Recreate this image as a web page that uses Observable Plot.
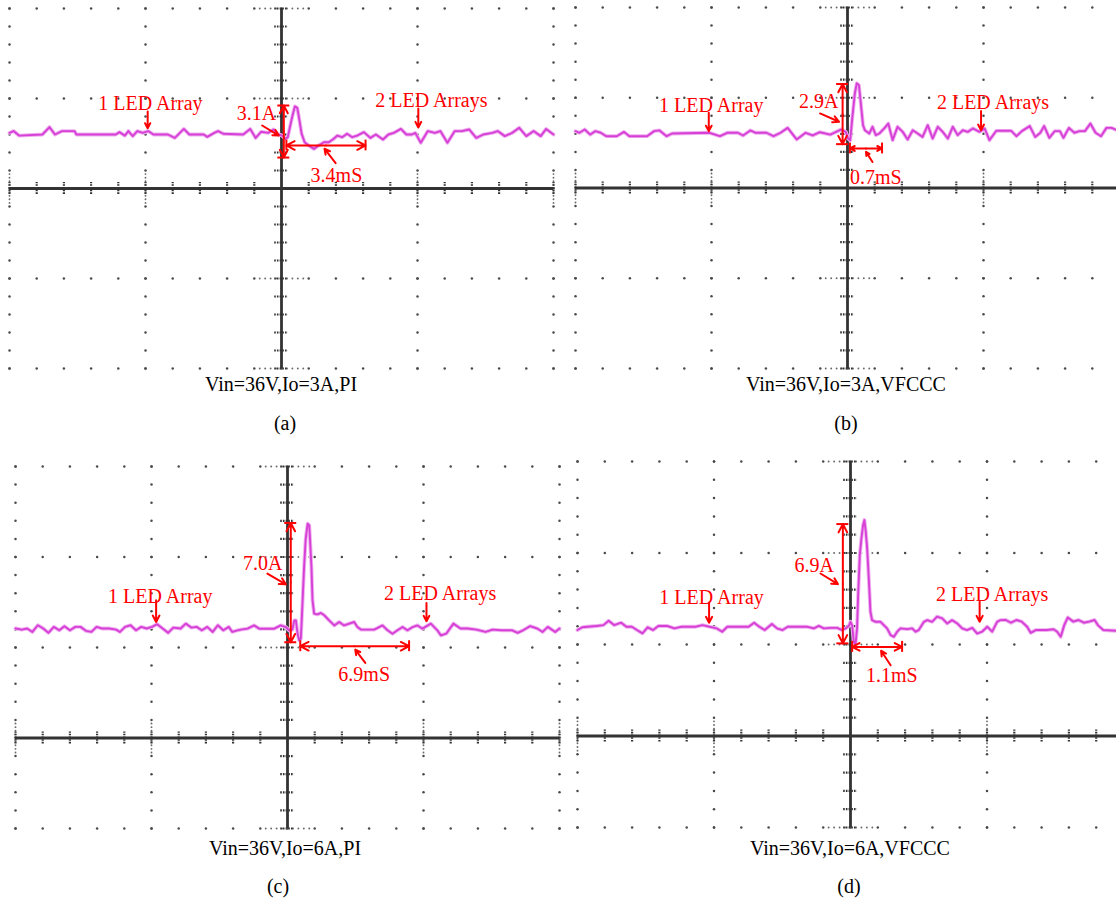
<!DOCTYPE html>
<html><head><meta charset="utf-8">
<script src="https://cdn.jsdelivr.net/npm/d3@7"></script>
<script src="https://cdn.jsdelivr.net/npm/@observablehq/plot@0.6"></script>
<style>
html,body{margin:0;padding:0;background:#fff;overflow:hidden;}
#root{position:relative;width:1116px;height:900px;overflow:hidden;background:#fff;}
.panel{position:absolute;}
.cap{position:absolute;font-family:"Liberation Serif","Times New Roman",Times,serif;font-size:20px;color:#000;transform:translate(-50%,-50%);white-space:nowrap;line-height:1;}
</style></head><body><div id="root"></div>
<script>
// ---- Data: time (horizontal divisions) vs current (vertical divisions) ----
const traceA = [[-10,3.09],[-9.85,3.19],[-9.65,2.94],[-8.79,3.0],[-8.53,3.41],[-8.33,3.0],[-8.07,3.19],[-7.61,3.19],[-7.54,3.0],[-6.09,3.0],[-5.96,3.13],[-5.76,2.94],[-5.63,3.19],[-5.47,2.91],[-5.30,3.19],[-5.10,3.09],[-4.90,3.19],[-4.71,3.0],[-4.18,3.0],[-3.92,2.81],[-3.59,3.31],[-3.39,3.0],[-2.86,3.0],[-2.73,2.87],[-2.47,3.09],[-2.33,3.19],[-2.14,3.04],[-1.41,3.0],[-1.15,3.31],[-0.95,2.81],[-0.75,3.15],[-0.49,3.09],[-0.29,3.28],[-0.16,3.04],[0.02,2.94],[0.15,2.76],[0.23,2.85],[0.39,3.96],[0.49,4.56],[0.58,4.48],[0.66,3.78],[0.74,3.04],[0.85,2.57],[1.0,2.39],[1.19,2.20],[1.37,2.39],[1.56,2.57],[1.74,2.57],[1.92,2.76],[2.05,2.94],[2.23,2.85],[2.41,3.04],[2.6,2.85],[2.78,2.94],[3.03,3.13],[3.27,2.81],[3.47,3.0],[3.73,2.72],[3.93,3.0],[4.13,3.09],[4.39,3.31],[4.59,3.0],[4.79,3.0],[4.92,3.09],[5.12,2.54],[5.38,3.19],[5.64,3.09],[5.84,3.19],[6.10,2.54],[6.37,3.19],[6.63,3.19],[6.90,3.28],[7.16,2.81],[7.42,3.0],[7.75,3.09],[7.95,3.19],[8.21,2.91],[8.48,3.09],[8.74,3.37],[9.0,2.91],[9.27,3.19],[9.53,2.91],[9.73,3.31],[10,3.0]];

const traceB = [[-10,3.15],[-9.86,3.06],[-9.66,3.24],[-9.46,2.96],[-9.27,3.15],[-9.07,3.06],[-8.87,2.87],[-8.48,2.87],[-8.22,3.11],[-8.02,2.87],[-7.37,2.87],[-7.11,3.15],[-6.91,3.19],[-6.65,2.87],[-6.45,3.02],[-5.08,3.06],[-4.69,2.87],[-4.42,3.06],[-4.03,3.06],[-3.84,2.91],[-3.57,3.19],[-3.38,3.06],[-2.98,3.06],[-2.72,2.87],[-2.46,3.06],[-2.20,3.33],[-1.87,2.69],[-1.54,3.06],[-1.28,2.91],[-1.02,3.09],[-0.63,2.96],[-0.24,3.24],[-0.06,3.11],[0.02,2.74],[0.10,2.65],[0.18,3.94],[0.27,5.24],[0.34,5.80],[0.42,5.70],[0.49,4.69],[0.57,3.48],[0.64,3.20],[0.80,3.02],[0.92,3.39],[1.04,2.93],[1.17,3.02],[1.35,3.30],[1.50,3.57],[1.66,2.65],[1.84,3.39],[2.03,3.11],[2.21,2.69],[2.40,3.20],[2.58,3.02],[2.76,2.83],[2.95,3.48],[3.13,2.74],[3.32,3.39],[3.50,3.11],[3.69,2.74],[3.87,3.39],[4.05,2.93],[4.24,3.20],[4.42,3.11],[4.61,3.30],[4.85,3.11],[5.04,3.30],[5.22,2.65],[5.47,3.17],[6.02,3.17],[6.21,2.87],[6.41,3.15],[6.70,3.43],[6.90,2.83],[7.09,3.06],[7.23,3.43],[7.42,2.78],[7.62,3.15],[7.81,3.15],[7.94,2.78],[8.14,3.33],[8.34,3.06],[8.53,3.15],[8.73,3.15],[8.93,3.57],[9.12,3.06],[9.32,2.87],[9.52,3.33],[9.71,3.33],[10,3.15]];

const traceC = [[-10,6.05],[-9.77,5.99],[-9.57,6.05],[-9.38,5.86],[-9.18,6.23],[-8.98,6.05],[-8.79,5.81],[-8.59,6.14],[-8.39,5.95],[-8.2,6.18],[-8.0,5.95],[-7.8,6.14],[-7.61,6.14],[-7.41,5.92],[-7.21,5.86],[-7.02,6.14],[-6.82,6.05],[-6.56,6.05],[-6.30,5.99],[-6.16,5.86],[-5.97,6.14],[-5.77,6.23],[-5.57,5.95],[-5.38,6.14],[-5.18,6.05],[-4.98,6.14],[-4.79,6.29],[-4.59,6.05],[-4.39,5.81],[-4.20,6.10],[-3.93,6.05],[-3.74,6.32],[-3.54,6.10],[-3.34,6.14],[-3.15,5.95],[-2.95,6.14],[-2.75,5.86],[-2.56,6.23],[-2.36,5.95],[-2.16,6.14],[-2.03,5.86],[-1.84,5.95],[-1.72,5.99],[-1.47,6.04],[-1.23,6.22],[-1.04,6.04],[-0.49,6.04],[-0.25,6.22],[-0.06,6.13],[0.06,5.95],[0.18,5.99],[0.25,6.50],[0.31,6.50],[0.37,5.76],[0.43,5.40],[0.49,5.49],[0.55,7.42],[0.61,9.45],[0.67,11.01],[0.74,11.84],[0.80,11.75],[0.83,10.92],[0.88,9.45],[0.92,7.61],[0.98,6.87],[1.10,6.83],[1.23,6.91],[1.35,6.78],[1.53,6.50],[1.72,6.22],[1.90,6.41],[2.08,6.22],[2.27,6.32],[2.45,6.41],[2.57,6.13],[2.70,5.99],[3.19,5.99],[3.49,6.22],[3.68,5.95],[3.86,5.76],[4.04,5.95],[4.23,6.13],[4.41,5.95],[4.60,6.13],[4.78,6.22],[4.96,6.04],[5.27,6.32],[5.51,5.95],[5.64,5.67],[5.84,5.77],[6.10,6.32],[6.36,6.05],[6.62,6.05],[6.95,5.99],[7.28,5.86],[7.54,5.99],[7.87,5.95],[8.26,5.95],[8.46,5.81],[8.66,5.95],[8.92,6.18],[9.18,6.05],[9.38,5.86],[9.57,6.14],[9.84,5.86],[10,6.05]];

const traceD = [[-10,5.79],[-9.83,5.94],[-9.64,5.97],[-9.31,6.01],[-9.05,6.06],[-8.86,6.30],[-8.66,6.06],[-8.40,6.19],[-8.21,5.97],[-8.01,5.97],[-7.82,5.79],[-7.62,5.61],[-7.43,5.94],[-7.23,5.79],[-7.04,6.01],[-6.71,6.01],[-6.45,5.88],[-6.19,5.97],[-5.68,5.97],[-5.42,6.06],[-5.16,5.97],[-4.90,5.88],[-4.70,5.70],[-4.51,5.97],[-4.12,5.97],[-3.73,5.97],[-3.53,6.19],[-3.34,5.97],[-3.14,5.79],[-2.88,6.12],[-2.69,5.88],[-2.49,5.79],[-2.30,5.97],[-1.83,5.97],[-1.59,5.97],[-1.34,5.88],[-1.16,6.02],[-0.98,5.88],[-0.73,5.91],[-0.49,5.91],[-0.31,5.79],[-0.18,5.88],[-0.06,6.02],[0,6.24],[0.06,6.06],[0.12,5.15],[0.18,4.97],[0.24,5.88],[0.28,7.70],[0.34,9.88],[0.40,10.80],[0.46,11.52],[0.51,11.80],[0.56,11.16],[0.61,10.25],[0.67,8.61],[0.73,6.79],[0.79,6.33],[0.92,6.24],[1.10,6.24],[1.22,6.06],[1.34,5.88],[1.47,5.51],[1.59,5.42],[1.71,5.70],[1.83,5.88],[2.08,5.84],[2.26,5.88],[2.38,5.70],[2.50,5.79],[2.69,6.24],[2.81,6.33],[2.99,6.24],[3.17,6.52],[3.36,6.43],[3.54,6.15],[3.72,6.33],[3.91,6.15],[4.09,5.88],[4.27,5.79],[4.46,5.91],[4.64,5.60],[4.82,5.70],[5.01,5.97],[5.19,5.70],[5.37,6.24],[5.49,6.33],[5.69,6.34],[5.88,6.19],[6.08,6.34],[6.27,6.25],[6.47,5.97],[6.60,5.64],[6.79,5.79],[7.18,5.79],[7.44,5.83],[7.57,5.70],[7.70,5.42],[7.83,6.06],[7.96,6.48],[8.16,6.25],[8.35,6.34],[8.55,6.19],[8.74,6.25],[8.94,6.34],[9.06,6.06],[9.26,5.79],[9.75,5.75],[10.2,5.75]];

// annotation labels: [text, t, i]
const labelsA = [["1 LED Array",-4.82,4.72],["2 LED Arrays",5.51,4.89],["3.1A",-0.92,4.17],["3.4mS",2.02,0.72]];
const labelsB = [["1 LED Array",-5.01,4.54],["2 LED Arrays",5.35,4.72],["2.9A",-1.06,4.8],["0.7mS",1.04,0.57]];
const labelsC = [["1 LED Array",-4.68,7.8],["2 LED Arrays",5.61,7.96],["7.0A",-0.91,9.65],["6.9mS",2.82,3.48]];
const labelsD = [["1 LED Array",-5.09,7.54],["2 LED Arrays",5.19,7.73],["6.9A",-1.33,9.32],["1.1mS",1.51,3.31]];

// pointer arrows: [t1, i1, t2, i2]
const arrowsA = [[-4.92,4.28,-4.92,3.35],[5.03,4.44,5.03,3.39],[-0.71,3.5,-0.1,2.94],[1.99,1.41,1.58,2.21]];
const arrowsB = [[-5.1,4.17,-5.1,3.15],[4.91,4.26,4.91,3.2],[-1.01,4.13,-0.31,3.67],[0.92,1.44,0.68,2.0]];
const arrowsC = [[-4.83,7.61,-4.83,6.41],[5.11,7.46,5.11,6.45],[-0.74,9.08,-0.06,8.49],[2.86,4.15,2.49,4.88]];
const arrowsD = [[-5.18,7.29,-5.18,6.19],[4.73,7.33,4.73,6.24],[-1.10,8.88,-0.46,8.3],[1.47,3.87,1.12,4.66]];

// dimension lines: amplitude [t, iLow, iHigh], duration [i, tStart, tEnd]
const ampA = [0.085,1.72,4.61], durA = [2.39,0.18,3.09];
const ampB = [-0.18,2.43,5.76], durB = [2.19,0.09,1.27];
const ampC = [0.12,5.29,11.88], durC = [5.07,0.47,4.47];
const ampD = [-0.28,5.06,11.58], durD = [4.87,0.06,1.89];

const captions = ["Vin=36V,Io=3A,PI","Vin=36V,Io=3A,VFCCC","Vin=36V,Io=6A,PI","Vin=36V,Io=6A,VFCCC"];
const tags = ["(a)","(b)","(c)","(d)"];

// ---- Layout ----
const layout = [
  {trace:traceA, labels:labelsA, arrows:arrowsA, amp:ampA, dur:durA, yDomain:[-10,10], cx:281, cy:188.2, sx:27.2, sy:18.0, capX:281, capY:384, tagX:285, tagY:423},
  {trace:traceB, labels:labelsB, arrows:arrowsB, amp:ampB, dur:durB, yDomain:[-10,10], cx:846.5, cy:187.8, sx:27.2, sy:18.05, capX:846, capY:384, tagX:846, tagY:423},
  {trace:traceC, labels:labelsC, arrows:arrowsC, amp:ampC, dur:durC, yDomain:[-5,15], cx:286.7, cy:737.7, sx:27.2, sy:18.1, capX:285, capY:848, tagX:278, tagY:886},
  {trace:traceD, labels:labelsD, arrows:arrowsD, amp:ampD, dur:durD, yDomain:[-5,15], cx:850, cy:735.9, sx:27.3, sy:18.3, capX:850, capY:848, tagX:849, tagY:886}
];

const FONT = '"Liberation Serif","Times New Roman",Times,serif';
const RED = "#ff0000";
const root = document.getElementById("root");

layout.forEach((cfg, k) => {
  const [ylo, yhi] = cfg.yDomain;
  const m = 6;
  const width = 20 * cfg.sx + 2 * m;
  const height = (yhi - ylo) * cfg.sy + 2 * m;
  const left = cfg.cx - 10 * cfg.sx - m;
  const top = cfg.cy - yhi * cfg.sy - m;

  const xt = d3.range(-10, 11);
  const yt = d3.range(ylo, yhi + 1);
  const majorX = [-10, -5, 5, 10];
  const majorY = yt.filter(v => v % 5 === 0 && v !== 0);
  const fine = [-0.8,-0.6,-0.4,-0.2,0.2,0.4,0.6,0.8];
  const dots = [];
  for (const y of majorY) for (const x of xt) dots.push([x, y]);
  for (const x of majorX) for (const y of yt) dots.push([x, y]);
  const fineDots = [];
  for (const y of majorY) for (const f of fine) fineDots.push([f, y]);
  for (const x of majorX) for (const f of fine) fineDots.push([x, f]);

  const [ax, ay1, ay2] = cfg.amp;
  const [dy, dx1, dx2] = cfg.dur;
  const amid = (ay1 + ay2) / 2, dmid = (dx1 + dx2) / 2;
  const dimArrows = [[ax, amid, ax, ay1], [ax, amid, ax, ay2], [dmid, dy, dx1, dy], [dmid, dy, dx2, dy]];

  const plot = Plot.plot({
    width, height,
    marginLeft: m, marginRight: m, marginTop: m, marginBottom: m,
    x: {domain: [-10, 10], axis: null},
    y: {domain: [ylo, yhi], axis: null},
    style: {background: "transparent", maxWidth: "none", overflow: "visible", fontFamily: FONT},
    marks: [
      Plot.dot(fineDots, {x: d => d[0], y: d => d[1], r: 0.95, fill: "#6a6a6a", stroke: "none"}),
      Plot.dot(dots, {x: d => d[0], y: d => d[1], r: 1.25, fill: "#4a4a4a", stroke: "none"}),
      Plot.ruleX([0], {stroke: "#333", strokeWidth: 2.8}),
      Plot.ruleY([0], {stroke: "#333", strokeWidth: 2.8}),
      Plot.ruleX(xt.filter(v => v !== 0), {x: d => d, y1: () => -0.33, y2: () => 0.33, stroke: "#333", strokeWidth: 2.2, strokeDasharray: "1.6,1.1"}),
      Plot.ruleY(yt.filter(v => v !== 0), {y: d => d, x1: () => -0.25, x2: () => 0.25, stroke: "#333", strokeWidth: 2.2, strokeDasharray: "1.6,1.1"}),
      Plot.line(cfg.trace, {x: d => d[0], y: d => d[1], stroke: "#f0b0f0", strokeWidth: 3.8, strokeLinejoin: "round"}),
      Plot.line(cfg.trace, {x: d => d[0], y: d => d[1], stroke: "#d640d6", strokeWidth: 1.9, strokeLinejoin: "round"}),
      Plot.ruleY([ay1, ay2], {y: d => d, x1: () => ax - 0.22, x2: () => ax + 0.22, stroke: RED, strokeWidth: 2}),
      Plot.ruleX([dx1, dx2], {x: d => d, y1: () => dy - 0.3, y2: () => dy + 0.3, stroke: RED, strokeWidth: 2}),
      Plot.arrow(dimArrows, {x1: d => d[0], y1: d => d[1], x2: d => d[2], y2: d => d[3], stroke: RED, strokeWidth: 2, headLength: 7, headAngle: 55}),
      Plot.arrow(cfg.arrows, {x1: d => d[0], y1: d => d[1], x2: d => d[2], y2: d => d[3], stroke: RED, strokeWidth: 2, headLength: 7, headAngle: 55}),
      Plot.text(cfg.labels, {x: d => d[1], y: d => d[2], text: d => d[0], fill: RED, fontSize: 20, fontFamily: FONT})
    ]
  });

  const div = document.createElement("div");
  div.className = "panel";
  div.style.left = left + "px";
  div.style.top = top + "px";
  div.style.width = width + "px";
  div.style.height = height + "px";
  div.appendChild(plot);
  root.appendChild(div);

  const cap = document.createElement("div");
  cap.className = "cap";
  cap.textContent = captions[k];
  cap.style.left = cfg.capX + "px";
  cap.style.top = cfg.capY + "px";
  root.appendChild(cap);

  const tag = document.createElement("div");
  tag.className = "cap";
  tag.textContent = tags[k];
  tag.style.left = cfg.tagX + "px";
  tag.style.top = cfg.tagY + "px";
  root.appendChild(tag);
});
</script></body></html>
